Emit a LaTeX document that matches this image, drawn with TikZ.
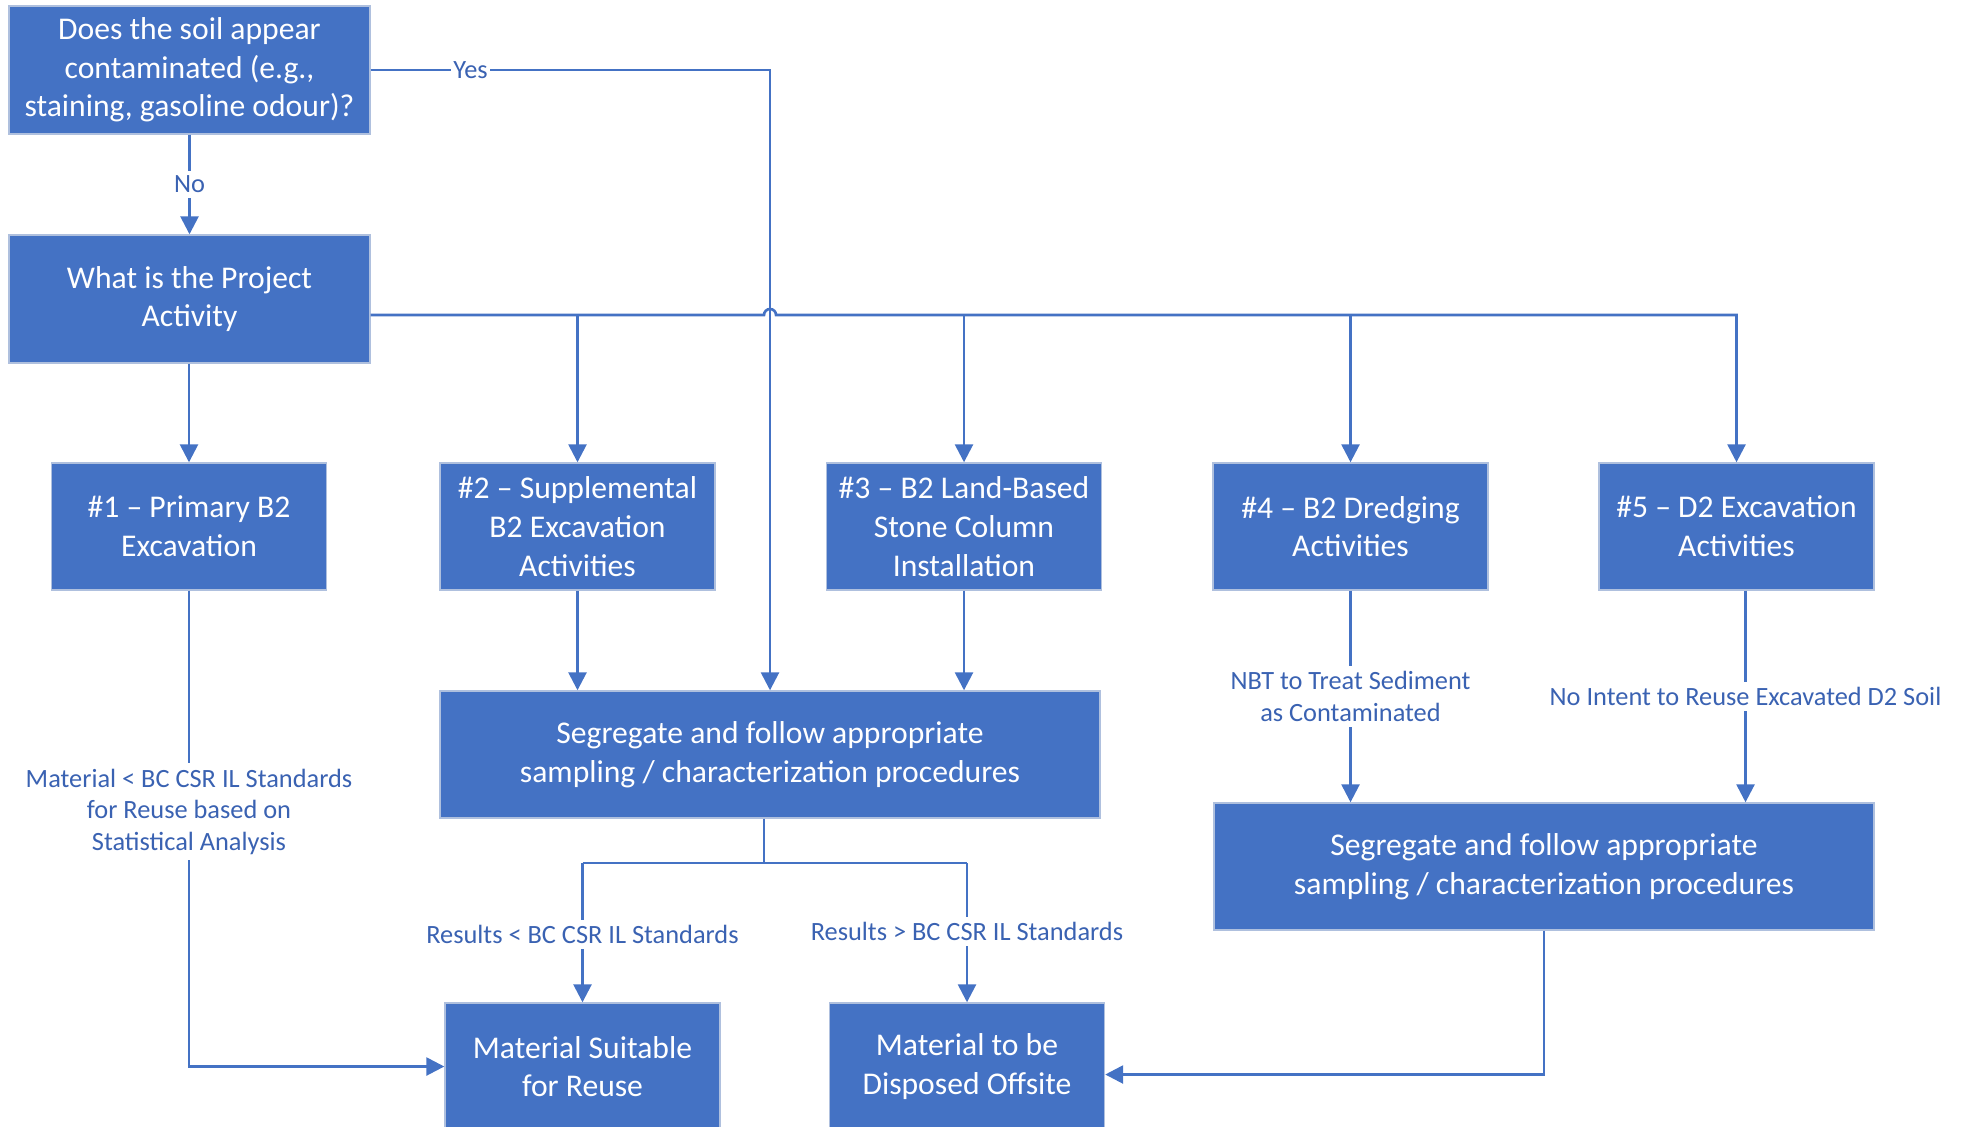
\documentclass[tikz,border=0pt]{standalone}
\usepackage{fontspec}
\setmainfont{Carlito}
\usetikzlibrary{arrows.meta}
\usetikzlibrary{calc}

\definecolor{boxblue}{HTML}{4472C4}
\definecolor{edgeblue}{HTML}{AFC0DE}
\definecolor{textblue}{HTML}{3A62B2}

\begin{document}
\begin{tikzpicture}[
	box/.style={draw=edgeblue,line width=0.4pt,fill=boxblue,text=white,align=center,inner sep=0pt,font=\fontsize{9}{11}\selectfont},
	wbox/.style={box,minimum width=3.61cm,minimum height=1.28cm},
	abox/.style={box,minimum width=2.75cm,minimum height=1.27cm},
	sbox/.style={box,minimum width=6.6cm,minimum height=1.27cm},
	link/.style={draw=boxblue,line width=0.75pt},
	arr/.style={link,-{Triangle[length=1.8mm,width=1.8mm]}},
	lbl/.style={fill=white,text=textblue,align=center,inner xsep=0.6pt,inner ysep=1.5pt,font=\fontsize{7.5}{9.1}\selectfont}
	]
	\useasboundingbox (0,0) rectangle (19.67,-11.26);
	\node[wbox] (q) at (1.895,-0.70) {Does the soil appear\\contaminated (e.g.,\\staining, gasoline odour)?};
	\node[wbox] (pa) at (1.895,-2.99) {What is the Project\\Activity};
	\node[abox] (b1) at (1.89,-5.265) {\#1 -- Primary B2\\Excavation};
	\node[abox] (b2) at (5.775,-5.265) {\#2 -- Supplemental\\B2 Excavation\\Activities};
	\node[abox] (b3) at (9.64,-5.265) {\#3 -- B2 Land-Based\\Stone Column\\Installation};
	\node[abox] (b4) at (13.505,-5.265) {\#4 -- B2 Dredging\\Activities};
	\node[abox] (b5) at (17.365,-5.265) {\#5 -- D2 Excavation\\Activities};
	\node[sbox] (s1) at (7.70,-7.545) {Segregate and follow appropriate\\sampling / characterization procedures};
	\node[sbox] (s2) at (15.44,-8.665) {Segregate and follow appropriate\\sampling / characterization procedures};
	\node[abox] (m1) at (5.825,-10.665) {Material Suitable\\for Reuse};
	\node[abox] (m2) at (9.67,-10.665) {Material to be\\Disposed Offsite};
	\coordinate (bus) at (0,-3.15);
	\coordinate (fork) at (0,-8.63);
	\draw[arr] (q) -- node[lbl] {No} (pa);
	\draw[arr] (q.east) -- node[lbl,pos=0.25] {Yes} (q.east -| s1.north) -- (s1.north);
	\draw[arr] (pa.east |- bus) -- ($(s1.north |- bus)+(-0.06,0)$) arc[start angle=180,end angle=0,radius=0.06] -- (b5 |- bus) -- (b5);
	\foreach \n in {b2,b3,b4}
		\draw[arr] (\n |- bus) -- (\n);
	\draw[arr] (pa.south -| b1) -- (b1);
	\draw[arr] (b2) -- (b2 |- s1.north);
	\draw[arr] (b3) -- (b3 |- s1.north);
	\draw[arr] (b1) -- node[lbl,pos=0.465] {Material < BC CSR IL Standards\\for Reuse based on\\Statistical Analysis} (b1.south |- m1.west) -- (m1.west);
	\draw[link] ([xshift=-0.6mm]s1.south) -- ([xshift=-0.6mm]s1.south |- fork);
	\draw[link] (m1 |- fork) -- (m2 |- fork);
	\draw[arr] (m1 |- fork) -- node[lbl,pos=0.51] {Results < BC CSR IL Standards} (m1);
	\draw[arr] (m2 |- fork) -- node[lbl,pos=0.49] {Results > BC CSR IL Standards} (m2);
	\draw[arr] (b4) -- node[lbl] {NBT to Treat Sediment\\as Contaminated} (b4 |- s2.north);
	\draw[arr] ([xshift=0.9mm]b5.south) -- node[lbl] {No Intent to Reuse Excavated D2 Soil} ([xshift=0.9mm]b5.south |- s2.north);
	\draw[arr] (s2.south) |- ([yshift=-0.8mm]m2.east);
\end{tikzpicture}
\end{document}
